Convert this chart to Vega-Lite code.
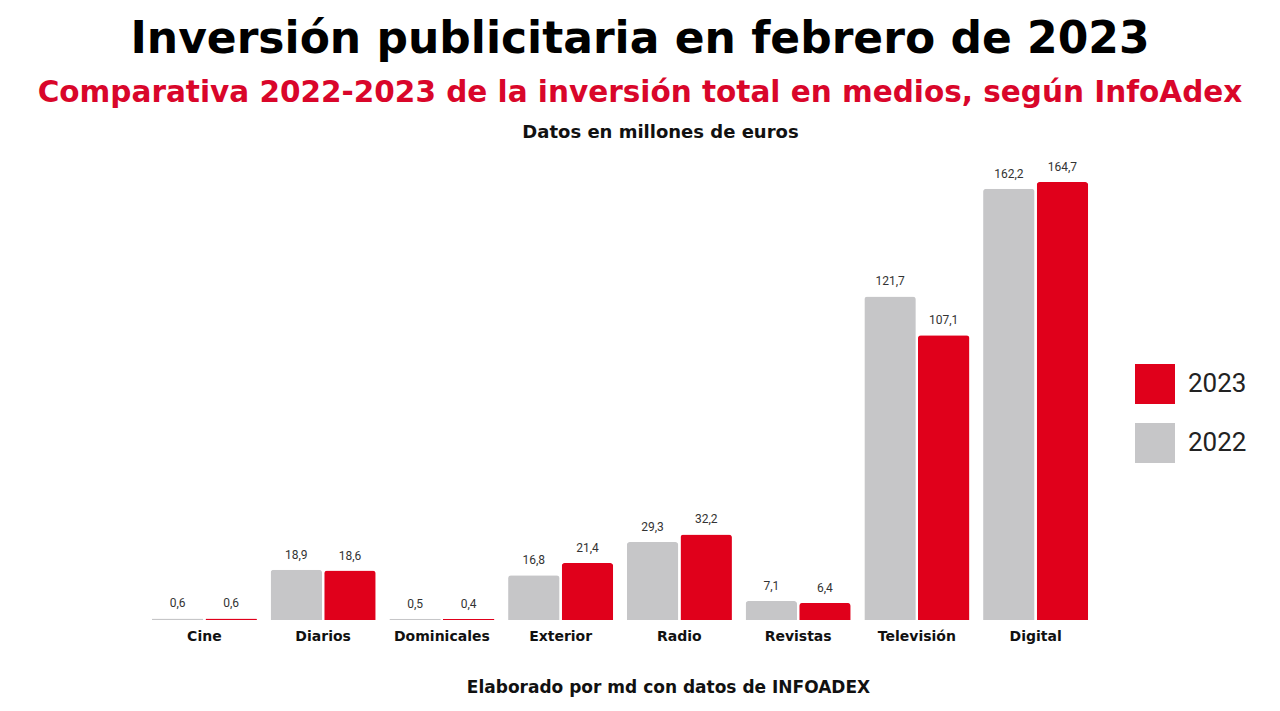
{
  "$schema": "https://vega.github.io/schema/vega-lite/v6.json",
  "autosize": {"type": "none"},
  "width": 950,
  "height": 452,
  "padding": {"left": 145, "top": 168, "right": 185, "bottom": 91},
  "background": "white",
  "title": {
    "text": "Inversión publicitaria en febrero de 2023",
    "subtitle": "Comparativa 2022-2023 de la inversión total en medios, según InfoAdex",
    "anchor": "middle",
    "dx": 20,
    "font": "DejaVu Sans",
    "fontSize": 44,
    "fontWeight": "bold",
    "color": "#000000",
    "subtitleFont": "DejaVu Sans",
    "subtitleFontSize": 29.5,
    "subtitleFontWeight": "bold",
    "subtitleColor": "#d9062a",
    "subtitlePadding": 17,
    "offset": 16
  },
  "data": {
    "values": [
      {"medio": "Cine", "anio": "2022", "valor": 0.6},
      {"medio": "Cine", "anio": "2023", "valor": 0.6},
      {"medio": "Diarios", "anio": "2022", "valor": 18.9},
      {"medio": "Diarios", "anio": "2023", "valor": 18.6},
      {"medio": "Dominicales", "anio": "2022", "valor": 0.5},
      {"medio": "Dominicales", "anio": "2023", "valor": 0.4},
      {"medio": "Exterior", "anio": "2022", "valor": 16.8},
      {"medio": "Exterior", "anio": "2023", "valor": 21.4},
      {"medio": "Radio", "anio": "2022", "valor": 29.3},
      {"medio": "Radio", "anio": "2023", "valor": 32.2},
      {"medio": "Revistas", "anio": "2022", "valor": 7.1},
      {"medio": "Revistas", "anio": "2023", "valor": 6.4},
      {"medio": "Televisión", "anio": "2022", "valor": 121.7},
      {"medio": "Televisión", "anio": "2023", "valor": 107.1},
      {"medio": "Digital", "anio": "2022", "valor": 162.2},
      {"medio": "Digital", "anio": "2023", "valor": 164.7}
    ]
  },
  "encoding": {
    "x": {
      "field": "medio",
      "type": "nominal",
      "sort": null,
      "scale": {"paddingInner": 0.115, "paddingOuter": 0.0575},
      "axis": {
        "title": "Elaborado por md con datos de INFOADEX",
        "titleFont": "DejaVu Sans",
        "titleFontSize": 17,
        "titleFontWeight": "bold",
        "titleColor": "#111111",
        "titleX": 523,
        "titlePadding": 36,
        "labelAngle": 0,
        "labelFont": "DejaVu Sans",
        "labelFontSize": 14,
        "labelFontWeight": "bold",
        "labelColor": "#111111",
        "labelPadding": 9,
        "domain": false,
        "ticks": false
      }
    },
    "xOffset": {"field": "anio", "type": "nominal", "sort": ["2022", "2023"], "scale": {"paddingInner": 0.04}},
    "y": {
      "field": "valor",
      "type": "quantitative",
      "scale": {"domain": [0, 170]},
      "axis": {
        "title": "Datos en millones de euros",
        "titleAngle": 0,
        "titleX": 515,
        "titleY": -36,
        "titleAlign": "center",
        "titleBaseline": "middle",
        "titleFont": "DejaVu Sans",
        "titleFontSize": 18,
        "titleFontWeight": "bold",
        "titleColor": "#111111",
        "labels": false,
        "ticks": false,
        "domain": false,
        "grid": false
      }
    }
  },
  "layer": [
    {
      "mark": {"type": "bar", "cornerRadiusTopLeft": 3, "cornerRadiusTopRight": 3},
      "encoding": {
        "color": {
          "field": "anio",
          "type": "nominal",
          "scale": {"domain": ["2022", "2023"], "range": ["#c6c6c8", "#e0001b"]},
          "legend": {
            "title": null,
            "values": ["2023", "2022"],
            "orient": "none",
            "legendX": 990,
            "legendY": 196,
            "symbolType": "square",
            "symbolSize": 1600,
            "symbolStrokeWidth": 0,
            "rowPadding": 19,
            "labelOffset": 13,
            "labelFont": "Roboto",
            "labelFontSize": 26,
            "labelColor": "#222222"
          }
        }
      }
    },
    {
      "mark": {"type": "text", "baseline": "bottom", "dy": -8, "font": "Roboto", "fontSize": 12, "color": "#333333"},
      "encoding": {
        "text": {"field": "valor", "type": "quantitative", "format": ".1f"}
      }
    }
  ],
  "config": {
    "locale": {"number": {"decimal": ",", "thousands": ".", "grouping": [3], "currency": ["", " €"]}},
    "view": {"stroke": null}
  }
}
